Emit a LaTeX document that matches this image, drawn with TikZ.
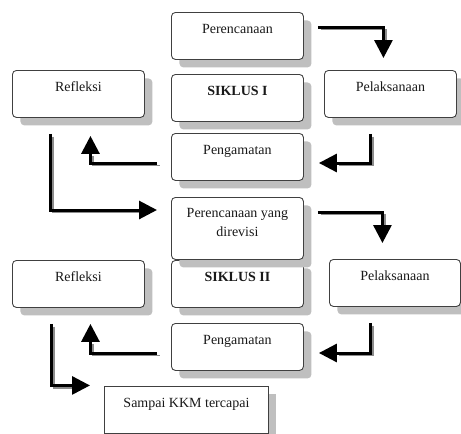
\documentclass[tikz,border=0pt]{standalone}
\usepackage{fontspec}
\setmainfont{Liberation Serif}
\usetikzlibrary{arrows.meta,shadows,calc}
\tikzset{
  box/.style={draw=black!75, line width=0.9pt, fill=white, rounded corners=4pt,
    minimum width=132pt, minimum height=47pt, anchor=north west, inner sep=0pt,
    general shadow={fill=black!25, shadow xshift=8pt, shadow yshift=-8pt}},
  lbl/.style={anchor=base, inner sep=0pt, yshift=-21pt, text=black!90},
  arrmain/.style={line width=3pt, black, line join=miter,
    -{Triangle[length=18pt,width=18pt]}},
  arrsh/.style={line width=1.3pt, black!45, line join=miter, shorten >=17pt,
    transform canvas={xshift=2.6pt,yshift=-2.6pt}}
}
\newcommand\bigarrow[1]{\draw[arrsh] #1; \draw[arrmain] #1;}
\begin{document}
\begin{tikzpicture}[x=1pt,y=-1pt,font=\fontsize{14}{19}\selectfont]
\useasboundingbox (0,0) rectangle (461,434);
\node[box, label={[lbl]north:Perencanaan}] (p1) at (171,12) {};
\node[box, label={[lbl]north:Refleksi}] (r1) at (12,70) {};
\node[box, label={[lbl]north:\textbf{SIKLUS I}}] (s1) at (171,74) {};
\node[box, label={[lbl]north:Pelaksanaan}] (l1) at (324,70) {};
\node[box, label={[lbl]north:Pengamatan}] (g1) at (171,133) {};
\node[box, label={[lbl]north:\textbf{SIKLUS II}}] (s2) at (171,260) {};
\node[box, minimum height=62pt,
  label={[anchor=north, inner sep=0pt, yshift=-11pt, align=center, text=black!90]north:{Perencanaan yang\\direvisi}}] (p2) at (171,197) {};
\node[box, label={[lbl]north:Refleksi}] (r2) at (12,260) {};
\node[box, minimum width=131pt, label={[lbl]north:Pelaksanaan}] (l2) at (329,259) {};
\node[box, label={[lbl]north:Pengamatan}] (g2) at (171,323) {};
\node[box, sharp corners, minimum width=164pt, label={[lbl]north:Sampai KKM tercapai}] (k) at (104,386) {};

\bigarrow{($(p1.north east)+(14,15)$) -| ($(l1.north)+(-7,-12)$)}
\bigarrow{($(l1.south)+(-20,16)$) |- ($(g1.north east)+(15,30)$)}
\bigarrow{($(g1.north west)+(-14,30)$) -| ($(r1.south)+(12,18)$)}
\bigarrow{($(r1.south)+(-28,16)$) |- ($(p2.north west)+(-14,13)$)}
\bigarrow{($(p2.north east)+(14,15)$) -| ($(l2.north)+(-12.5,-16)$)}
\bigarrow{($(l2.south)+(-24.5,16)$) |- ($(g2.north east)+(15,30)$)}
\bigarrow{($(g2.north west)+(-14,30)$) -| ($(r2.south)+(12,16)$)}
\bigarrow{($(r2.south)+(-27,16)$) |- ($(k.west)+(-14,-24.5)$)}
\end{tikzpicture}
\end{document}
